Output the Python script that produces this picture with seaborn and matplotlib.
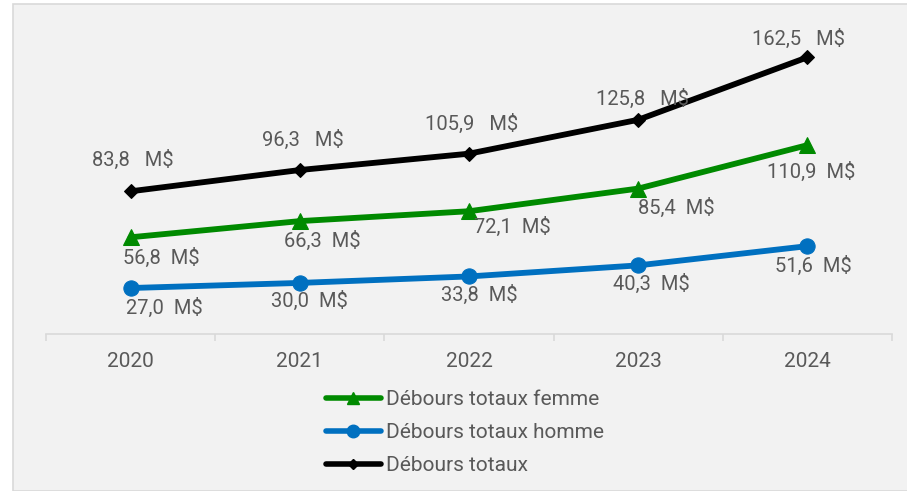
import matplotlib
matplotlib.use('Agg')
import matplotlib.pyplot as plt
from matplotlib.patches import Rectangle
from matplotlib.lines import Line2D
import pandas as pd
import seaborn as sns

# Data
years = ['2020', '2021', '2022', '2023', '2024']
total = [83.8, 96.3, 105.9, 125.8, 162.5]
femme = [56.8, 66.3, 72.1, 85.4, 110.9]
homme = [27.0, 30.0, 33.8, 40.3, 51.6]

# label offsets in pixels (layout, not data)
off_total = [(2, 31), (3, 30), (3, 30), (4, 21), (-9, 18)]
off_femme = [(31, -21), (23, -20), (43, -16), (38, -19), (4, -27)]
off_homme = [(34, -20), (10, -18), (10, -18), (13, -18), (6, -20)]

sns.set_theme(style='white')
plt.rcParams['font.family'] = ['Roboto', 'DejaVu Sans']

txt = '#595959'
green = '#008a00'
blue = '#0070c0'
black = '#000000'

df = pd.DataFrame({'year': range(len(years)), 'total': total,
                   'femme': femme, 'homme': homme})

fig = plt.figure(figsize=(9.07, 4.91), dpi=100)
fig.patch.set_facecolor('white')
fig.patches.append(Rectangle((13 / 907, 0), 1, 1 - 4 / 491, transform=fig.transFigure,
                             facecolor='#f2f2f2', edgecolor='#d9d9d9', lw=1.2, zorder=-10))

ax = fig.add_axes([46 / 907, 1 - 334 / 491, 846 / 907, (334 - 27.5) / 491])
ax.set_facecolor('none')

series = [
    ('femme', femme, green, '^', 11, off_femme, '  '),
    ('homme', homme, blue, 'o', 11, off_homme, '  '),
    ('total', total, black, 'D', 7.5, off_total, '   '),
]
for col, vals, c, m, ms, offs, gap in series:
    sns.lineplot(data=df, x='year', y=col, ax=ax, color=c, lw=4.2, marker=m,
                 markersize=ms, markeredgecolor=c, legend=False)
    for i, v in enumerate(vals):
        lab = f'{v:.1f}'.replace('.', ',') + gap + 'M$'
        ax.annotate(lab, (i, v), xytext=offs[i], textcoords='offset pixels',
                    ha='center', va='center', fontsize=14.5, color=txt)

ax.set_xlim(-0.5, 4.5)
ax.set_ylim(0, 180)
ax.set_xticks(range(len(years)))
ax.set_xticklabels(years)
ax.set_xticks([x - 0.5 for x in range(len(years) + 1)], minor=True)
ax.tick_params(axis='x', which='major', length=0, pad=13, labelsize=15, labelcolor=txt)
ax.tick_params(axis='x', which='minor', length=5, width=1.2, color='#d9d9d9', bottom=True)
ax.set_yticks([])
ax.set_xlabel('')
ax.set_ylabel('')
for s in ['top', 'left', 'right']:
    ax.spines[s].set_visible(False)
ax.spines['bottom'].set_color('#d9d9d9')
ax.spines['bottom'].set_linewidth(1.2)

handles = [
    Line2D([], [], color=green, lw=4, marker='^', markersize=8, markeredgecolor=green),
    Line2D([], [], color=blue, lw=4, marker='o', markersize=9, markeredgecolor=blue),
    Line2D([], [], color=black, lw=4, marker='D', markersize=5, markeredgecolor=black),
]
labels = ['Débours totaux femme', 'Débours totaux homme', 'Débours totaux']
leg = fig.legend(handles, labels, loc='upper center', bbox_to_anchor=(465 / 907, 1 - 382 / 491),
                 frameon=False, fontsize=15, handlelength=2.65, handletextpad=0.25,
                 labelspacing=0.67, borderaxespad=0)
for t in leg.get_texts():
    t.set_color(txt)

fig.savefig('out.png', dpi=100)
